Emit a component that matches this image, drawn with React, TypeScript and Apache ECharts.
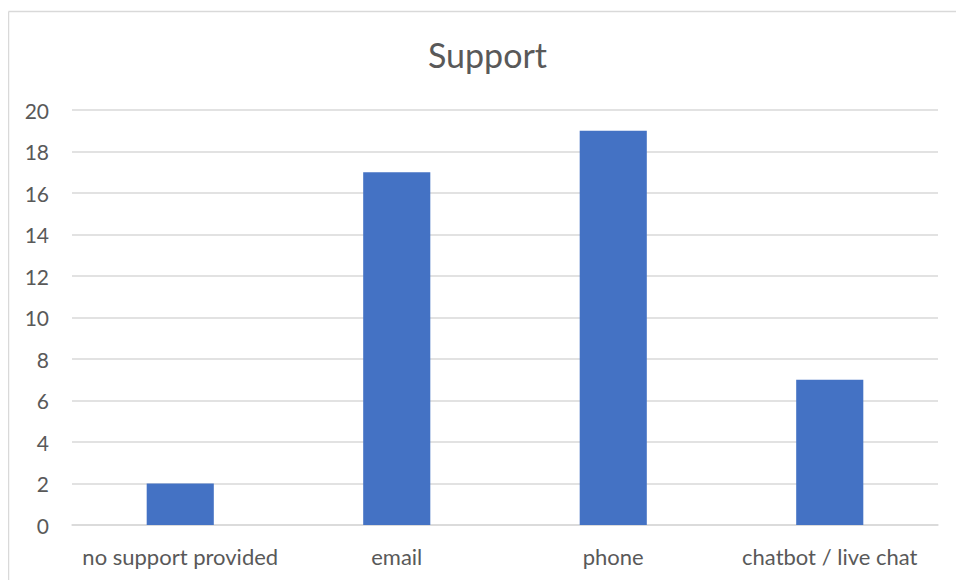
import React, { useEffect, useRef } from "react";
import * as echarts from "echarts";

const categories = ["no support provided", "email", "phone", "chatbot / live chat"];
const values = [2, 17, 19, 7];
const chartTitle = "Support";

export default function App() {
  const ref = useRef<HTMLDivElement>(null);
  useEffect(() => {
    if (!ref.current) return;
    const chart = echarts.init(ref.current, null, { renderer: "svg" });
    const font = "Lato, 'Open Sans', sans-serif";
    chart.setOption({
      animation: false,
      backgroundColor: "#ffffff",
      title: {
        text: chartTitle,
        left: 415,
        top: 24,
        textStyle: { fontFamily: font, fontSize: 34, fontWeight: "normal", color: "#595959" },
      },
      graphic: [
        {
          type: "line",
          shape: { x1: 0.5, y1: 3.5, x2: 2000, y2: 3.5 },
          style: { stroke: "#d9d9d9", lineWidth: 1.5 },
          silent: true,
        },
        {
          type: "line",
          shape: { x1: 0.5, y1: 3.5, x2: 0.5, y2: 2000 },
          style: { stroke: "#d9d9d9", lineWidth: 1.5 },
          silent: true,
        },
      ],
      grid: { left: 64, right: 18, top: 102, bottom: 55 },
      xAxis: {
        type: "category",
        data: categories,
        axisLine: { show: true, lineStyle: { color: "#d9d9d9", width: 1.5 } },
        axisTick: { show: false },
        axisLabel: { fontFamily: font, fontSize: 22, color: "#595959", margin: 20, interval: 0 },
      },
      yAxis: {
        type: "value",
        min: 0,
        max: 20,
        interval: 2,
        axisLine: { show: false },
        axisTick: { show: false },
        splitLine: { lineStyle: { color: "#d9d9d9", width: 1.5 } },
        axisLabel: { fontFamily: font, fontSize: 21, color: "#595959", margin: 23 },
      },
      series: [
        {
          type: "bar",
          data: values,
          barWidth: "31%",
          itemStyle: { color: "#4472c4" },
        },
      ],
    });
    return () => chart.dispose();
  }, []);
  return (
    <div
      ref={ref}
      style={{ position: "fixed", left: 8, top: 8, width: 948, height: 572 }}
    />
  );
}
